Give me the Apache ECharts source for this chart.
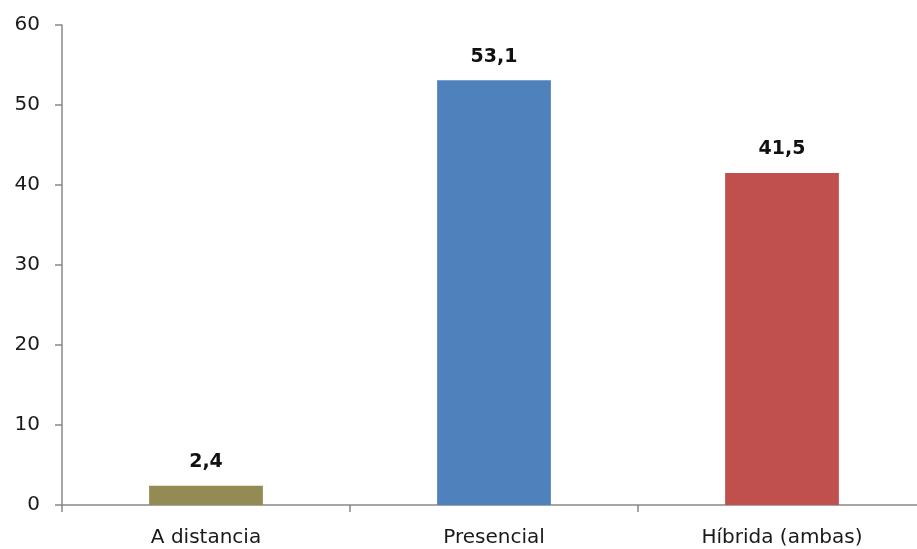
<!DOCTYPE html>
<html><head><meta charset="utf-8">
<script src="https://cdn.jsdelivr.net/npm/echarts@6/dist/echarts.min.js"></script>
<style>html,body{margin:0;padding:0;background:#fff;overflow:hidden}#c{width:926px;height:549px}</style>
</head><body><div id="c"></div>
<script>
const categories = ['A distancia', 'Presencial', 'Híbrida (ambas)'];
const values = [2.4, 53.1, 41.5];
const barColors = ['#948A54', '#4F81BD', '#C0504D'];
const yTicks = [0, 10, 20, 30, 40, 50, 60];

const chart = echarts.init(document.getElementById('c'));
chart.setOption({
  animation: false,
  grid: { left: 62, right: 0, top: 25, bottom: 44, containLabel: false },
  xAxis: {
    type: 'category',
    data: categories,
    boundaryGap: true,
    axisLine: { lineStyle: { color: '#888', width: 1.5 } },
    axisTick: { show: true, length: 7, lineStyle: { color: '#888', width: 1.5 } },
    axisLabel: { color: '#1a1a1a', fontFamily: 'DejaVu Sans', fontSize: 20, margin: 23 }
  },
  yAxis: {
    type: 'value',
    min: yTicks[0], max: yTicks[yTicks.length - 1], interval: 10,
    splitLine: { show: false },
    axisLine: { show: true, lineStyle: { color: '#888', width: 1.5 } },
    axisTick: { show: true, length: 7, lineStyle: { color: '#888', width: 1.5 } },
    axisLabel: { color: '#1a1a1a', fontFamily: 'DejaVu Sans', fontSize: 20, margin: 22 }
  },
  series: [{
    type: 'bar',
    barWidth: '39.5%',
    data: values.map((v, i) => ({ value: v, itemStyle: { color: barColors[i] } })),
    label: {
      show: true, position: 'top', distance: 14,
      formatter: p => String(p.value).replace('.', ','),
      color: '#111', fontFamily: 'DejaVu Sans', fontWeight: 'bold', fontSize: 19
    }
  }]
});
</script></body></html>
